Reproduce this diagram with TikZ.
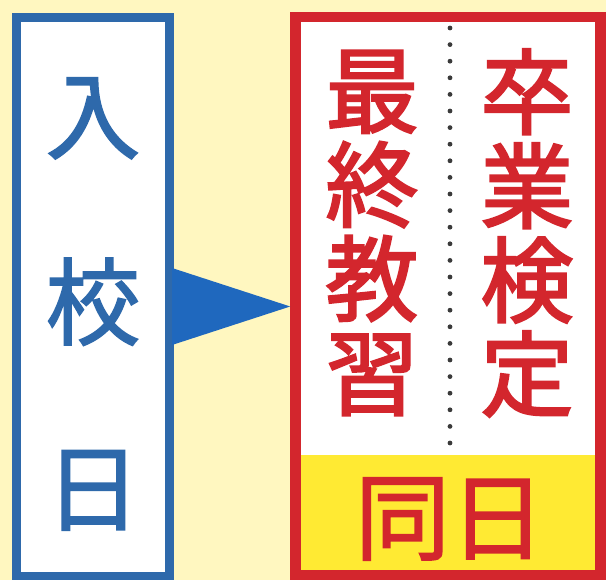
\documentclass[tikz,border=0pt]{standalone}
\usepackage{fontspec}
\usetikzlibrary{calc}
\newfontfamily\jpmed{Noto Sans CJK JP}[FakeBold=1.6]
\newfontfamily\jpsemi{Noto Sans CJK JP}[FakeBold=2.4]
\definecolor{bgcream}{HTML}{FFF7C0}
\definecolor{boxblue}{HTML}{2E69AB}
\definecolor{arrowblue}{HTML}{1F68BE}
\definecolor{boxred}{HTML}{D3262D}
\definecolor{bandyellow}{HTML}{FFEA33}
\definecolor{dotgray}{HTML}{3A3A3A}
\tikzset{
  panel/.style={rectangle, inner sep=0pt, fill=white},
  bluetext/.style={text=boxblue, align=center, inner sep=0pt, font=\jpmed\fontsize{95}{186}\selectfont},
  redtext/.style={text=boxred, align=center, inner sep=0pt, font=\jpsemi\fontsize{93}{94}\selectfont},
  bandtext/.style={text=boxred, inner sep=0pt, font=\jpmed\fontsize{95}{95}\selectfont},
}
\begin{document}
\begin{tikzpicture}[x=1pt,y=-1pt]
\fill[bgcream] (0,0) rectangle (606,580);
\useasboundingbox (0,0) rectangle (606,580);
% left box
\node[panel, draw=boxblue, line width=9pt, minimum width=153pt, minimum height=558.5pt] (entry) at (93,296.75) {};
% right box
\node[panel, draw=boxred, line width=10.5pt, minimum width=305pt, minimum height=558pt] (exam) at (448,296) {};
% yellow band
\fill[bandyellow] (300.75,455) rectangle (595.25,569.75);
% dotted divider
\coordinate (dtop) at (450,28);
\coordinate (dbot) at (450,443);
\foreach \i in {0,...,25} {
  \fill[dotgray] ($(dtop)!\i/25!(dbot)$) circle (2.4pt);
}
% texts
\node[bluetext] (t1) at (93,304) {入\\校\\日};
\node[redtext] (t2) at (372,233) {最\\終\\教\\習};
\node[redtext] (t3) at (527,233) {卒\\業\\検\\定};
\node[bandtext] (t4) at (450,519) {同日};
% arrow
\coordinate (abase) at (172,306.5);
\fill[arrowblue] ($(abase)+(0,-38.5)$) -- (exam.west |- abase) -- ($(abase)+(0,38.5)$) -- cycle;
\end{tikzpicture}
\end{document}
